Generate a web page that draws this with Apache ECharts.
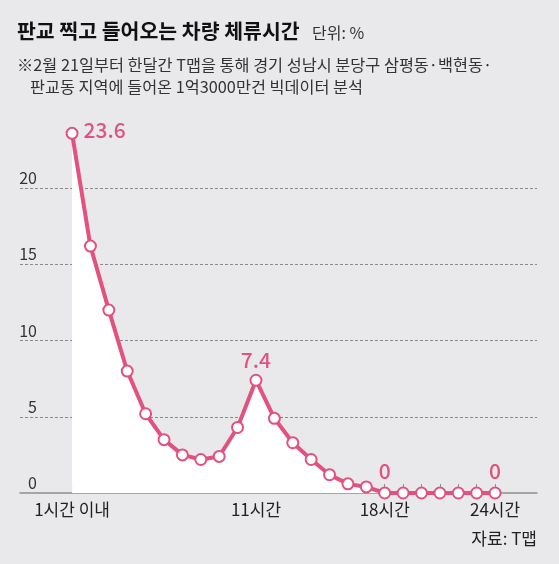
<!DOCTYPE html>
<html>
<head>
<meta charset="utf-8">
<script src="https://cdn.jsdelivr.net/npm/echarts@6/dist/echarts.min.js"></script>
<style>
html,body{margin:0;padding:0;background:#e9e9eb;}
#c{width:559px;height:564px;}
</style>
</head>
<body>
<div id="c"></div>
<script>
const hours = [1,2,3,4,5,6,7,8,9,10,11,12,13,14,15,16,17,18,19,20,21,22,23,24];
const shares = [23.6,16.2,12.0,8.0,5.2,3.5,2.5,2.2,2.4,4.3,7.4,4.9,3.3,2.2,1.2,0.6,0.4,0,0,0,0,0,0,0];
const tickHours = [1,11,18,24];
const tickTexts = ['1시간 이내','11시간','18시간','24시간'];
const yTicks = [0,5,10,15,20];
const labeledHours = [1,11,18,24];

const titleText = '판교 찍고 들어오는 차량 체류시간';
const unitText = '단위: %';
const noteLine1 = '※2월 21일부터 한달간 T맵을 통해 경기 성남시 분당구 삼평동·백현동·';
const noteLine2 = '판교동 지역에 들어온 1억3000만건 빅데이터 분석';
const sourceText = '자료: T맵';

const PINK = '#e2527e';
const FONT = '"Noto Sans CJK KR", "Noto Sans", sans-serif';

const data = hours.map((h, i) => {
  const item = { value: [h, shares[i]] };
  if (labeledHours.includes(h)) {
    item.label = h === 1
      ? { show: true, position: 'right', distance: 5, offset: [0, -3] }
      : { show: true, position: 'top', distance: h === 11 ? 3 : 5 };
  }
  return item;
});

const chart = echarts.init(document.getElementById('c'), null, { renderer: 'canvas' });
chart.setOption({
  backgroundColor: '#e9e9eb',
  animation: false,
  textStyle: { fontFamily: FONT },
  grid: { left: 20, right: 22, top: 112, bottom: 71, containLabel: false },
  xAxis: {
    type: 'value',
    min: -1.83,
    max: 26.28,
    splitLine: { show: false },
    axisLine: { show: true, lineStyle: { color: '#8e8e90', width: 1.5 } },
    axisTick: {
      show: true, inside: true, length: 9,
      customValues: hours,
      lineStyle: { color: '#8e8e90', width: 1 }
    },
    axisLabel: {
      customValues: tickHours,
      formatter: v => tickTexts[tickHours.indexOf(Math.round(v))] || '',
      margin: 8,
      fontSize: 17,
      color: '#222',
      fontFamily: FONT
    }
  },
  yAxis: {
    type: 'value',
    min: 0, max: 25, interval: 5,
    axisLine: { show: false },
    axisTick: { show: false },
    axisLabel: {
      showMaxLabel: false,
      margin: -17,
      align: 'right',
      verticalAlign: 'bottom',
      padding: [0, 0, 2, 0],
      fontSize: 16,
      color: '#333',
      fontFamily: FONT,
      formatter: v => yTicks.includes(v) ? String(v) : ''
    },
    splitLine: {
      show: true,
      showMaxLine: false,
      showMinLine: false,
      lineStyle: { color: '#8a8a8c', type: [3, 2], width: 1 }
    }
  },
  series: [{
    type: 'line',
    data: data,
    symbol: 'circle',
    symbolSize: 11,
    showAllSymbol: true,
    clip: false,
    lineStyle: { color: PINK, width: 4 },
    itemStyle: { color: '#fff', borderColor: PINK, borderWidth: 2 },
    areaStyle: { color: '#ffffff', opacity: 1, origin: 'start' },
    label: {
      show: false,
      color: PINK,
      fontSize: 21,
      fontFamily: FONT,
      fontWeight: 500
    },
    emphasis: { disabled: true },
    z: 3
  }],
  graphic: [
    { type: 'text', left: 17, top: 21, style: { text: titleText, font: 'bold 20.5px ' + FONT, fill: '#111' } },
    { type: 'text', left: 312, top: 25, style: { text: unitText, font: '16px ' + FONT, fill: '#333' } },
    { type: 'text', left: 17, top: 57, style: { text: noteLine1, font: '16.3px ' + FONT, fill: '#333' } },
    { type: 'text', left: 30, top: 79, style: { text: noteLine2, font: '16.3px ' + FONT, fill: '#333' } },
    { type: 'text', right: 22, top: 530, style: { text: sourceText, font: '17px ' + FONT, fill: '#222' } }
  ]
});
</script>
</body>
</html>
